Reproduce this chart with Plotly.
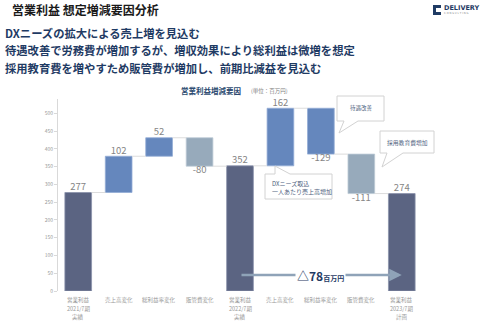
import plotly.graph_objects as go

# ---------------- data ----------------
categories = ["営業利益<br>2021/7期<br>実績", "売上高変化", "総利益率変化", "販管費変化",
              "営業利益<br>2022/7期<br>実績", "売上高変化", "総利益率変化", "販管費変化",
              "営業利益<br>2023/7期<br>計画"]
values = [277, 102, 52, -80, 352, 162, -129, -111, 274]
measures = ["total", "delta", "delta", "delta", "total", "delta", "delta", "delta", "total"]
kinds = ["total", "sales", "margin", "sga", "total", "sales", "margin", "sga", "total"]
label_texts = ["277", "102", "52", "-80", "352", "162", "-129", "-111", "274"]
y_ticks = [0, 50, 100, 150, 200, 250, 300, 350, 400, 450, 500]
change_text = "△78"
change_unit = "百万円"

# ---------------- styles ----------------
FONT = "Noto Sans CJK JP"
kind_colors = {"total": "#5b6482", "sales": "#6587bd", "margin": "#6587bd", "sga": "#97aabb"}
kind_lines = {"total": "#8a92ab", "sales": "#93acd6", "margin": "#93acd6", "sga": "#bccad6"}
NAVY = "#1f3b64"

W, H = 480, 323
ML, MR, MT, MB = 58, 58, 99, 32
PW, PH = W - ML - MR, H - MT - MB


def PX(px):
    return (px - ML) / PW


def PY(py):
    return (H - MB - py) / PH


# compute bases
xs = list(range(len(values)))
bases, heights, ends = [], [], []
running = 0
for v, m in zip(values, measures):
    if m == "total":
        bases.append(0)
        heights.append(v)
        running = v
    else:
        bases.append(running)
        heights.append(v)
        running += v
    ends.append(running)

fig = go.Figure()

# connectors
BW = 0.66
cx, cy = [], []
for i in range(len(values) - 1):
    cx += [i + BW / 2, i + 1 - BW / 2, None]
    cy += [ends[i], ends[i], None]
fig.add_trace(go.Scatter(x=cx, y=cy, mode="lines", line=dict(color="#dcdcdc", width=1),
                         hoverinfo="skip", showlegend=False))

fig.add_trace(go.Bar(
    x=xs, y=heights, base=bases, width=BW,
    marker=dict(color=[kind_colors[k] for k in kinds],
                line=dict(color=[kind_lines[k] for k in kinds], width=0.8)),
    showlegend=False, hoverinfo="skip"))

# value labels
tx, ty, tpos = [], [], []
for i, (b, h) in enumerate(zip(bases, heights)):
    tx.append(i)
    ty.append(b + h)
    tpos.append("top center" if h >= 0 else "bottom center")
fig.add_trace(go.Scatter(x=tx, y=ty, mode="text", text=label_texts, textposition=tpos,
                         textfont=dict(family=FONT, size=9.5, color="#858585"),
                         hoverinfo="skip", showlegend=False, cliponaxis=False))

shapes = []
annotations = []

# x category labels, one line each
for i, cat in enumerate(categories):
    for j, line in enumerate(cat.split("<br>")):
        annotations.append(dict(x=i, xref="x", yref="paper", y=PY(300 + 8.6 * j),
                                xanchor="center", yanchor="middle", showarrow=False, text=line,
                                font=dict(family=FONT, size=5.5, color="#999999")))


# callouts (pixel geometry)
def callout(left, top, right, bottom, b1, b2, tip, edge):
    l, r, t, btm = PX(left), PX(right), PY(top), PY(bottom)
    if edge == "top":
        path = (f"M {l},{t} L {PX(b1)},{t} L {PX(tip[0])},{PY(tip[1])} L {PX(b2)},{t} "
                f"L {r},{t} L {r},{btm} L {l},{btm} Z")
    else:
        path = (f"M {l},{t} L {r},{t} L {r},{btm} L {PX(b2)},{btm} "
                f"L {PX(tip[0])},{PY(tip[1])} L {PX(b1)},{btm} L {l},{btm} Z")
    shapes.append(dict(type="path", xref="paper", yref="paper", path=path,
                       line=dict(color="#d2d2d2", width=1), fillcolor="white", layer="above"))


callout(265, 174, 332, 199, 275, 290, (275, 166), "top")
callout(337, 96, 384, 121, 344, 358, (339, 133), "bottom")
callout(380, 131, 434, 153, 387, 403, (382, 167), "bottom")

annotations.append(dict(xref="paper", yref="paper", x=PX(270), y=PY(187.5), xanchor="left",
                        yanchor="middle", showarrow=False, align="left",
                        text="DXニーズ取込<br>一人あたり売上高増加",
                        font=dict(family=FONT, size=6, color="#4f5f80")))
annotations.append(dict(xref="paper", yref="paper", x=PX(361), y=PY(108), xanchor="center",
                        yanchor="middle", showarrow=False, text="待遇改善",
                        font=dict(family=FONT, size=5.5, color="#4f5f80")))
annotations.append(dict(xref="paper", yref="paper", x=PX(407), y=PY(142), xanchor="center",
                        yanchor="middle", showarrow=False, text="採用教育費増加",
                        font=dict(family=FONT, size=5.8, color="#4f5f80")))

# change arrow between the two totals
arrow_y = 45
annotations.append(dict(x=8, y=arrow_y, ax=4, ay=arrow_y, xref="x", yref="y", axref="x", ayref="y",
                        showarrow=True, arrowhead=2, arrowsize=1, arrowwidth=2.5,
                        arrowcolor="#8fa3b8", text=""))
annotations.append(dict(x=6, y=arrow_y, xref="x", yref="y", showarrow=False, bgcolor="white",
                        text=f"<b>{change_text}</b><b><span style='font-size:7px'>{change_unit}</span></b>",
                        font=dict(family=FONT, size=12, color=NAVY), borderpad=1))

# headers
annotations.append(dict(xref="paper", yref="paper", x=PX(10), y=PY(9), xanchor="left", yanchor="middle",
                        showarrow=False, text="<b>営業利益 想定増減要因分析</b>",
                        font=dict(family=FONT, size=12, color="#1a1a1a")))
for txt, yy in [("DXニーズの拡大による売上増を見込む", 33),
                ("待遇改善で労務費が増加するが、増収効果により総利益は微増を想定", 50),
                ("採用教育費を増やすため販管費が増加し、前期比減益を見込む", 67.5)]:
    annotations.append(dict(xref="paper", yref="paper", x=PX(3), y=PY(yy), xanchor="left",
                            yanchor="middle", showarrow=False, text=f"<b>{txt}</b>",
                            font=dict(family=FONT, size=11.3, color=NAVY)))

annotations.append(dict(xref="paper", yref="paper", x=PX(211), y=PY(91), xanchor="center",
                        yanchor="middle", showarrow=False, text="<b>営業利益増減要因</b>",
                        font=dict(family=FONT, size=7.5, color="#2c4a70")))
annotations.append(dict(xref="paper", yref="paper", x=PX(249), y=PY(91), xanchor="left",
                        yanchor="middle", showarrow=False, text="(単位：百万円)",
                        font=dict(family=FONT, size=5.5, color="#808080")))

# logo
shapes.append(dict(type="rect", xref="paper", yref="paper", x0=PX(433), x1=PX(441), y0=PY(15), y1=PY(5),
                   fillcolor="#1f3b64", line=dict(width=0)))
shapes.append(dict(type="rect", xref="paper", yref="paper", x0=PX(436), x1=PX(441), y0=PY(12), y1=PY(8),
                   fillcolor="white", line=dict(width=0)))
annotations.append(dict(xref="paper", yref="paper", x=PX(442), y=PY(8), xanchor="left", yanchor="middle",
                        showarrow=False, text="<b>DELIVERY</b>",
                        font=dict(family="DejaVu Sans", size=6.5, color="#1f3b64")))
annotations.append(dict(xref="paper", yref="paper", x=PX(442), y=PY(13.5), xanchor="left", yanchor="middle",
                        showarrow=False, text="C O N S U L T I N G",
                        font=dict(family="DejaVu Sans", size=2.6, color="#8a8a8a")))

fig.update_layout(
    width=W, height=H, margin=dict(l=ML, r=MR, t=MT, b=MB),
    paper_bgcolor="white", plot_bgcolor="white",
    font=dict(family=FONT),
    shapes=shapes, annotations=annotations,
    xaxis=dict(range=[-0.5, 8.5], tickvals=xs, showticklabels=False, showgrid=False, zeroline=False,
               showline=False, ticks="", fixedrange=True),
    yaxis=dict(range=[0, 540], tickvals=y_ticks, showgrid=False, zeroline=False, showline=True,
               linecolor="#d9d9d9", linewidth=1, ticks="outside", ticklen=3, tickcolor="#d9d9d9",
               tickfont=dict(family=FONT, size=5, color="#999999"), fixedrange=True),
    bargap=0.34,
)

fig.write_html("out.html", config={"displayModeBar": False})
